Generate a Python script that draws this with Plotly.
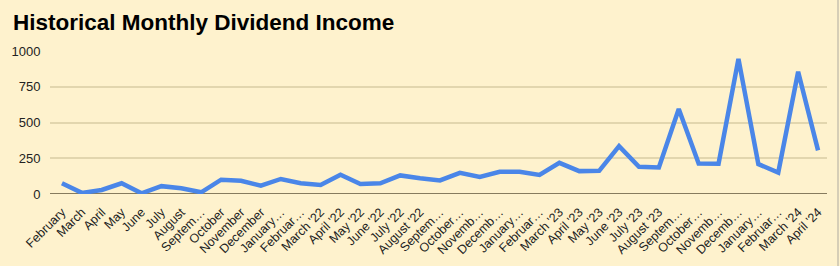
import plotly.graph_objects as go

months = ["February", "March", "April", "May", "June", "July", "August", "Septem…",
          "October", "November", "December", "January…", "Februar…", "March '22",
          "April '22", "May '22", "June '22", "July '22", "August '22", "Septem…",
          "October…", "Novemb…", "Decemb…", "January…", "Februar…", "March '23",
          "April '23", "May '23", "June '23", "July '23", "August '23", "Septem…",
          "October…", "Novemb…", "Decemb…", "January…", "Februar…", "March '24",
          "April '24"]

income = [75, 8, 28, 75, 5, 55, 40, 12,
          100, 92, 58, 105, 75, 63, 135, 70, 75, 130, 110, 95,
          148, 120, 155, 155, 133, 218, 160, 162, 335, 190, 186, 595,
          214, 212, 945, 209, 150, 855, 305]

y_ticks = [0, 250, 500, 750, 1000]

x_idx = list(range(len(months)))

fig = go.Figure()
fig.add_trace(go.Scatter(
    x=x_idx, y=income, mode="lines",
    line=dict(color="#4A86E8", width=4.5),
    hoverinfo="skip",
))

bg = "#FEF2CD"
fig.update_layout(
    width=840, height=266,
    paper_bgcolor=bg, plot_bgcolor=bg,
    margin=dict(l=50, r=13, t=51, b=72),
    showlegend=False,
    font=dict(family="Arial, Liberation Sans, sans-serif", color="#222222"),
    title=dict(
        text="<b>Historical Monthly Dividend Income</b>",
        font=dict(family="Arial, Liberation Sans, sans-serif", size=22.5, color="#000000"),
        x=13 / 840, xanchor="left", xref="container",
        y=1 - 22 / 266, yanchor="middle", yref="container",
    ),
    xaxis=dict(
        range=[-0.6, 38.45], automargin=False,
        tickmode="array", tickvals=x_idx, ticktext=months,
        tickangle=-45, tickfont=dict(size=12.5, color="#222222"),
        showgrid=False, zeroline=False, showline=False,
        ticks="outside", ticklen=5, tickcolor="rgba(0,0,0,0)",
    ),
    yaxis=dict(
        range=[0, 1000], automargin=False,
        tickmode="array", tickvals=y_ticks, ticktext=[str(v) for v in y_ticks],
        tickfont=dict(size=13, color="#222222"),
        showgrid=True, gridcolor="#E2D6AE", gridwidth=1.5,
        zeroline=False, showline=False,
        ticks="outside", ticklen=6, tickcolor="rgba(0,0,0,0)",
    ),
    shapes=[
        dict(type="line", xref="paper", yref="y", x0=0, x1=1, y0=0, y1=0,
             line=dict(color="#5E5338", width=1.5), layer="below"),
        dict(type="line", xref="paper", yref="paper", x0=(838 - 50) / 777, x1=(838 - 50) / 777,
             y0=-72 / 143, y1=1 + 51 / 143, line=dict(color="#C9C2AE", width=1.5)),
    ],
)

fig.write_html("out.html")
